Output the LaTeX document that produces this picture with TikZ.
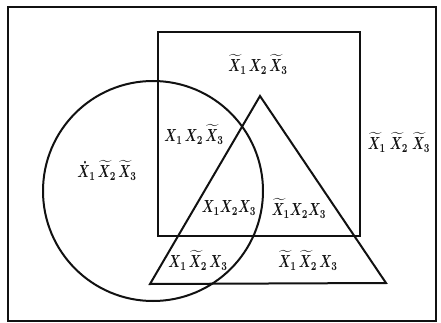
\documentclass[tikz,border=0pt]{standalone}
\usepackage{amsmath}
\usepackage{graphicx}
\usepackage{tikz}
\definecolor{Ink}{HTML}{111111}
\newcommand{\tall}[1]{\scalebox{1.25}[1.75]{$#1$}}

\begin{document}
\begin{tikzpicture}[x=1pt,y=-1pt,line join=miter,
    outline/.style={draw=Ink,line width=2pt},
    region/.style={Ink,inner sep=0pt,font=\boldmath}]
        \useasboundingbox(0,0)rectangle(441,323);
        \draw[outline,line width=1.6pt](8,7)rectangle(436,321);
        \draw[outline](158,32)rectangle(360,236);
        \draw[outline](153,191)circle(110);
        \draw[outline](260,96)--(386,283)--(150,284)--cycle;
        \node[region](n1)at(258,64){\tall{\widetilde{X}_1\,X_2\,\widetilde{X}_3}};
        \node[region](n2)at(194,134){\tall{X_1\,X_2\,\widetilde{X}_3}};
        \node[region](n3)at(107,170){\tall{\dot{X}_1\,\widetilde{X}_2\,\widetilde{X}_3}};
        \node[region](n4)at(229,208){\tall{X_1X_2X_3}};
        \node[region](n5)at(299,208){\tall{\widetilde{X}_1X_2X_3}};
        \node[region](n6)at(399,142){\tall{\widetilde{X}_1\;\widetilde{X}_2\;\widetilde{X}_3}};
        \node[region](n7)at(198,260){\tall{X_1\,\widetilde{X}_2\,X_3}};
        \node[region](n8)at(308,260){\tall{\widetilde{X}_1\,\widetilde{X}_2\,X_3}};
      \end{tikzpicture}
\end{document}
